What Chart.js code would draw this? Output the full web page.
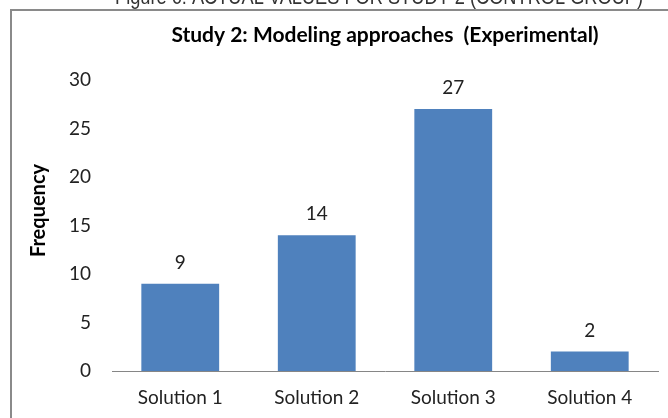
<!DOCTYPE html>
<html>
<head>
<meta charset="utf-8">
<script src="https://cdn.jsdelivr.net/npm/chart.js@4"></script>
<style>
    html, body { margin: 0; padding: 0; background: #ffffff; }
    #wrap { width: 668px; height: 418px; position: relative; }
</style>
</head>
<body>
<div id="wrap"><canvas id="modeling_approaches"></canvas></div>
<script>
// Study 2 data
const xValues = ["Solution 1", "Solution 2", "Solution 3", "Solution 4"];
const yValues = [9, 14, 27, 2];
const yTicks = [0, 5, 10, 15, 20, 25, 30];
const barColors = "#4F81BD";

const captionText = "Figure 6: ACTUAL VALUES FOR STUDY 2 (CONTROL GROUP)";
const titleText = "Study 2: Modeling approaches  (Experimental)";
const yTitleText = "Frequency";

const fontFamily = "Lato, 'Open Sans', sans-serif";

// frame, caption, title, y title and the value labels over the bars
const decorations = {
    id: 'decorations',
    beforeDraw(chart) {
        const c = chart.ctx;
        c.save();
        c.fillStyle = '#ffffff';
        c.fillRect(0, 0, chart.width, chart.height);
        c.strokeStyle = '#8a8a8a';
        c.lineWidth = 2;
        c.beginPath();
        c.moveTo(11, chart.height + 5);
        c.lineTo(11, 10);
        c.lineTo(chart.width + 5, 10);
        c.stroke();

        c.fillStyle = '#333333';
        c.font = "22px 'Liberation Sans', sans-serif";
        c.textAlign = 'center';
        c.textBaseline = 'alphabetic';
        c.fillText(captionText, 379, 4, 528);
        c.restore();
    },
    afterDatasetsDraw(chart) {
        const c = chart.ctx;
        const area = chart.chartArea;
        c.save();
        c.fillStyle = '#000000';
        c.textAlign = 'center';
        c.textBaseline = 'alphabetic';
        c.font = "bold 21px " + fontFamily;
        c.fillText(titleText, 385, 42);

        c.font = "bold 20px " + fontFamily;
        c.translate(45, (area.top + area.bottom) / 2 - 15);
        c.rotate(-Math.PI / 2);
        c.fillText(yTitleText, 0, 0);
        c.restore();

        c.save();
        c.fillStyle = '#222222';
        c.font = "19px " + fontFamily;
        c.textAlign = 'center';
        c.textBaseline = 'alphabetic';
        chart.getDatasetMeta(0).data.forEach((bar, i) => {
            c.fillText(String(yValues[i]), bar.x, bar.y - 15);
        });
        c.restore();
    }
};

function chart_modeling_approaches() {
    const ctx = document.getElementById('modeling_approaches');

    new Chart(ctx, {
        type: "bar",
        data: {
            labels: xValues,
            datasets: [{
                backgroundColor: barColors,
                data: yValues,
                barPercentage: 0.57,
                categoryPercentage: 1.0
            }]
        },
        options: {
            responsive: true,
            maintainAspectRatio: false,
            animation: false,
            layout: {
                padding: { top: 80, right: 10, left: 0, bottom: 0 }
            },
            plugins: {
                legend: { display: false },
                title: { display: false },
                tooltip: { enabled: false }
            },
            scales: {
                x: {
                    grid: { display: false, drawTicks: false },
                    border: { display: true, color: '#868686', width: 1 },
                    ticks: {
                        color: '#222222',
                        padding: 15,
                        font: { family: fontFamily, size: 19 }
                    },
                    afterFit(scale) { scale.height = 47; }
                },
                y: {
                    min: 0,
                    max: 30,
                    grid: { display: false, drawTicks: false },
                    border: { display: false },
                    afterBuildTicks(scale) {
                        scale.ticks = yTicks.map(v => ({ value: v }));
                    },
                    ticks: {
                        color: '#222222',
                        padding: 21,
                        font: { family: fontFamily, size: 19 }
                    },
                    afterFit(scale) { scale.width = 112; }
                }
            }
        },
        plugins: [decorations]
    });
}

chart_modeling_approaches();
</script>
</body>
</html>
